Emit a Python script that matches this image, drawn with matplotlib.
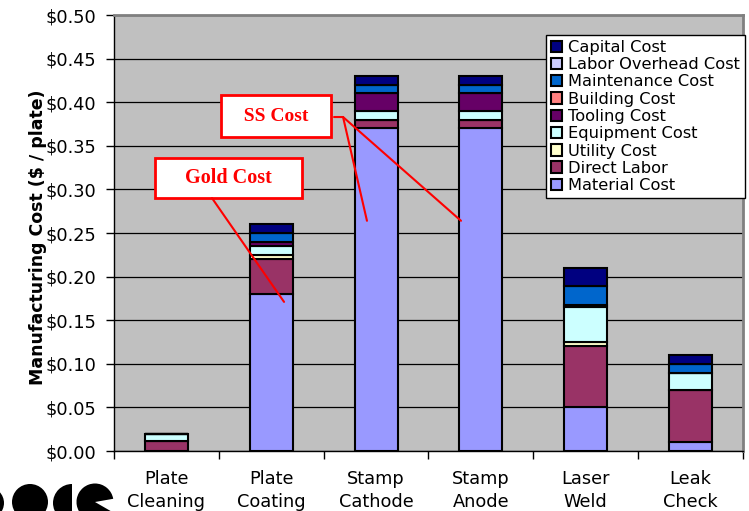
import matplotlib.pyplot as plt
from matplotlib.patches import Circle, Wedge
from matplotlib.ticker import FuncFormatter

# cost per plate for each manufacturing step
categories = ['Plate\nCleaning', 'Plate\nCoating', 'Stamp\nCathode',
              'Stamp\nAnode', 'Laser\nWeld', 'Leak\nCheck']

material_cost = [0.0, 0.18, 0.37, 0.37, 0.05, 0.01]
direct_labor = [0.012, 0.04, 0.01, 0.01, 0.07, 0.06]
utility_cost = [0.0, 0.005, 0.0, 0.0, 0.005, 0.0]
equipment_cost = [0.008, 0.01, 0.01, 0.01, 0.04, 0.02]
tooling_cost = [0.0, 0.005, 0.02, 0.02, 0.002, 0.0]
building_cost = [0.0, 0.0, 0.0, 0.0, 0.0, 0.0]
maintenance_cost = [0.0, 0.01, 0.01, 0.01, 0.022, 0.01]
labor_overhead_cost = [0.0, 0.0, 0.0, 0.0, 0.0, 0.0]
capital_cost = [0.0, 0.01, 0.01, 0.01, 0.021, 0.01]

y_ticks = [0.0, 0.05, 0.10, 0.15, 0.20, 0.25, 0.30, 0.35, 0.40, 0.45, 0.50]

# bottom to top stacking order
series = [
    ('Material Cost', material_cost, '#9999FF'),
    ('Direct Labor', direct_labor, '#993366'),
    ('Utility Cost', utility_cost, '#FFFFCC'),
    ('Equipment Cost', equipment_cost, '#CCFFFF'),
    ('Tooling Cost', tooling_cost, '#660066'),
    ('Building Cost', building_cost, '#FF8080'),
    ('Maintenance Cost', maintenance_cost, '#0066CC'),
    ('Labor Overhead Cost', labor_overhead_cost, '#CCCCFF'),
    ('Capital Cost', capital_cost, '#000080'),
]

fig = plt.figure(figsize=(7.49, 5.11), dpi=100)
ax = fig.add_axes([114 / 749, 60 / 511, 629 / 749, 436 / 511])
ax.set_facecolor('#C0C0C0')

x = list(range(len(categories)))
bottom = [0.0] * len(categories)
handles = []
for label, vals, color in series:
    b = ax.bar(x, vals, 0.41, bottom=bottom, color=color, edgecolor='black',
               linewidth=1.5, label=label, zorder=3)
    handles.append(b)
    bottom = [p + v for p, v in zip(bottom, vals)]

ax.set_xlim(-0.5, len(categories) - 0.5)
ax.set_ylim(0, 0.5)
ax.set_yticks(y_ticks)
ax.yaxis.set_major_formatter(FuncFormatter(lambda v, pos: '${:.2f}'.format(v)))
ax.yaxis.grid(True, color='black', linewidth=0.9, zorder=1)
ax.set_axisbelow(True)

ax.set_xticks(x)
ax.set_xticklabels(categories, fontsize=12.8, linespacing=1.32)
ax.set_xticks([i - 0.5 for i in range(len(categories) + 1)], minor=True)
ax.tick_params(axis='x', which='major', length=0, pad=14)
ax.tick_params(axis='x', which='minor', length=6, width=1, direction='out')
ax.tick_params(axis='y', length=6, width=1, direction='out', pad=7, labelsize=12.8)

for side in ['top', 'right']:
    ax.spines[side].set_color('#808080')
    ax.spines[side].set_linewidth(2)
for side in ['left', 'bottom']:
    ax.spines[side].set_color('black')
    ax.spines[side].set_linewidth(1)

ax.set_ylabel('Manufacturing Cost ($ / plate)', fontsize=12.5, fontweight='bold')
ax.yaxis.set_label_coords(-0.1065, 0.49)

leg = ax.legend(handles[::-1], [s[0] for s in series[::-1]], loc='upper right',
                bbox_to_anchor=(1.003, 0.954), borderaxespad=0, fontsize=11.7,
                handlelength=0.7, handleheight=0.7, handletextpad=0.35,
                labelspacing=0.14, borderpad=0.3, fancybox=False,
                framealpha=1, edgecolor='black')
leg.get_frame().set_linewidth(1)
leg.set_zorder(5)

# callout boxes with leader lines
box = dict(boxstyle='square', facecolor='white', edgecolor='red', linewidth=2)
line = dict(arrowstyle='-', color='red', linewidth=1.5, shrinkA=0, shrinkB=0)

ax.text(0.588, 0.313, '    Gold Cost    ', ha='center', va='center', color='red',
        fontsize=14.5, fontweight='bold', family='Liberation Serif',
        bbox=dict(box, boxstyle='square,pad=0.5'), zorder=6)
ax.annotate('', xy=(1.122, 0.171), xytext=(0.435, 0.290), arrowprops=line, zorder=6)

ax.text(1.046, 0.384, '  SS Cost  ', ha='center', va='center', color='red',
        fontsize=14, fontweight='bold', family='Liberation Serif',
        bbox=dict(box, boxstyle='square,pad=0.65'), zorder=6)
ax.annotate('', xy=(1.685, 0.383), xytext=(1.599, 0.383), arrowprops=line, zorder=6)
ax.annotate('', xy=(1.913, 0.264), xytext=(1.685, 0.383), arrowprops=line, zorder=6)
ax.annotate('', xy=(2.81, 0.264), xytext=(1.685, 0.383), arrowprops=line, zorder=6)

# logo fragment in the lower left corner
def px(xp, yp):
    return (xp / 100, (511 - yp) / 100)

logo = [
    Circle(px(-12, 503), 0.16),
    Circle(px(30, 502), 0.18),
    Wedge(px(72, 503), 0.19, 90, 270),
    Wedge(px(95, 502), 0.185, 10, 330),
]
for p in logo:
    p.set_transform(fig.dpi_scale_trans)
    p.set_facecolor('black')
    p.set_edgecolor('none')
    fig.patches.append(p)

fig.savefig('out.png', dpi=100)
